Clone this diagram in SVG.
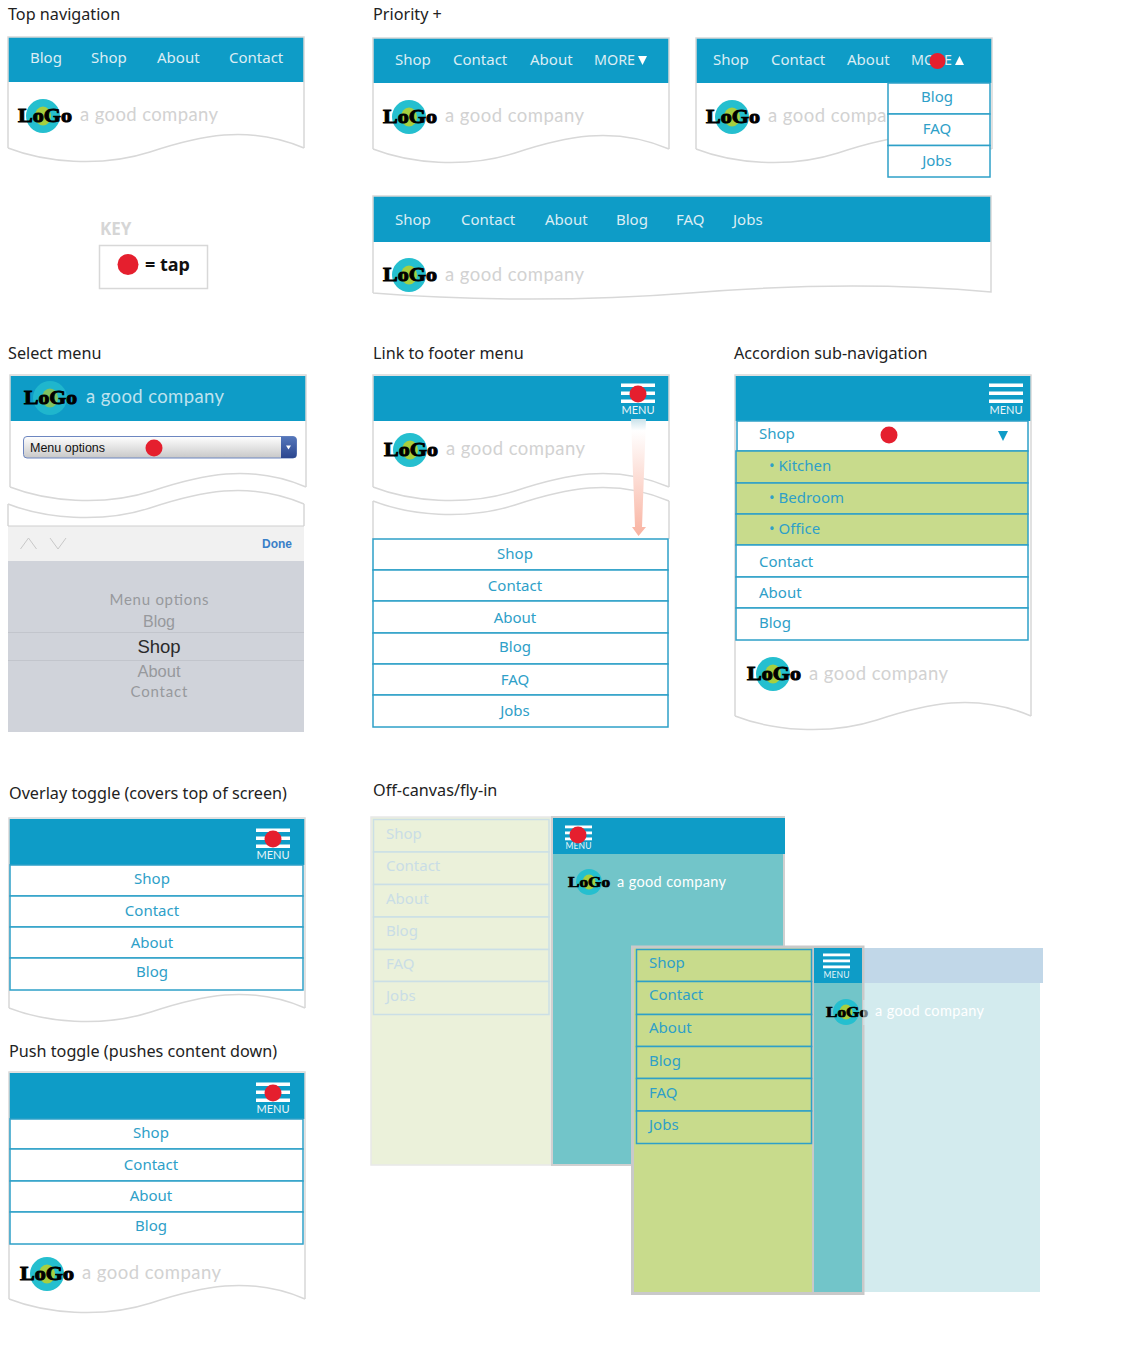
<svg xmlns="http://www.w3.org/2000/svg" width="1131" height="1350" viewBox="0 0 1131 1350">
<style>
text{font-family:"Noto Sans","Open Sans",sans-serif}
.title{font-size:16.2px;fill:#222}
.nav{font-size:15px;fill:#dcedf4}
.row{font-size:15px;fill:#2ea0c8}
.c{text-anchor:middle}
.tag{font-family:Lato,"Open Sans",sans-serif;font-size:18.500px;fill:#d2d2d2}
.tagw{font-family:Lato,"Open Sans",sans-serif;font-size:14.500px;fill:#fff}
.logo{font-family:"Liberation Serif",serif;font-weight:bold;font-size:18.500px;fill:#000;stroke:#000;stroke-width:.9}
.logos{font-family:"Liberation Serif",serif;font-weight:bold;font-size:14.500px;fill:#000;stroke:#000;stroke-width:.7}
.bar{fill:#0e9cc7}
.edge{fill:none;stroke:#d8d8d8;stroke-width:1.5}
.rowbox{fill:#fff;stroke:#2ea0c8;stroke-width:1.5}
.green{fill:#c8db8c;stroke:#2ea0c8;stroke-width:1.5}
.dot{fill:#e51f2e}
.menu{font-family:Lato,sans-serif;font-size:11px;fill:#e8f4f8;text-anchor:middle}
.menus{font-family:Lato,sans-serif;font-size:8.500px;fill:#e8f4f8;text-anchor:middle}
.fade{font-size:15px;fill:#c9dde6}
.pick{fill:#97999d;text-anchor:middle}
</style>
<defs>
<path id="wave" class="edge" d="M0,0 C36,14 92,20 142,4 C190,-12 240,-24 296,0"/>
<g id="mark"><circle r="17" fill="#25bfcf"/><ellipse rx="8" ry="9.500" fill="#a7cf3f"/></g>
<g id="marks"><circle r="13" fill="#25bfcf"/><ellipse rx="6.500" ry="7.500" fill="#a7cf3f"/></g>
<g id="icon" fill="#fff"><rect x="-17" y="-11" width="34" height="3.500"/><rect x="-17" y="-3" width="34" height="3.500"/><rect x="-17" y="5" width="34" height="3.500"/></g>
<g id="icons" fill="#fff"><rect x="-13.500" y="-8.500" width="27" height="2.800"/><rect x="-13.500" y="-2.500" width="27" height="2.800"/><rect x="-13.500" y="3.500" width="27" height="2.800"/></g>
<linearGradient id="sel" x1="0" y1="0" x2="0" y2="1"><stop offset="0" stop-color="#fff"/><stop offset="1" stop-color="#c8c8c8"/></linearGradient>
<linearGradient id="btn" x1="0" y1="0" x2="0" y2="1"><stop offset="0" stop-color="#5577bb"/><stop offset="1" stop-color="#2b468f"/></linearGradient>
<linearGradient id="arr" x1="0" y1="0" x2="0" y2="1"><stop offset="0" stop-color="#c9e2ea"/><stop offset=".1" stop-color="#fff"/><stop offset="1" stop-color="#f9b3a1"/></linearGradient>
</defs>

<g id="top-navigation">
<text class="title" x="8" y="20">Top navigation</text>
<rect class="bar" x="8" y="37" width="296" height="45"/>
<path class="edge" d="M8,148 V37 H304 V148"/>
<use href="#wave" x="8" y="148"/>
<text class="nav" x="30" y="63">Blog</text><text class="nav" x="91" y="63">Shop</text><text class="nav" x="157" y="63">About</text><text class="nav" x="229" y="63">Contact</text>
<use href="#mark" x="43" y="116"/>
<text class="logo" x="18" y="122" textLength="54" lengthAdjust="spacingAndGlyphs">LoGo</text>
<text class="tag" x="80" y="121" textLength="138">a good company</text>
</g>

<g id="priority-1">
<text class="title" x="373" y="20">Priority +</text>
<rect class="bar" x="373" y="38" width="296" height="45"/>
<path class="edge" d="M373,149 V38 H669 V149"/>
<use href="#wave" x="373" y="149"/>
<text class="nav" x="395" y="65">Shop</text><text class="nav" x="453" y="65">Contact</text><text class="nav" x="530" y="65">About</text><text class="nav" x="594" y="65" textLength="41" lengthAdjust="spacingAndGlyphs">MORE</text>
<path d="M638,56 H647 L642.500,65 Z" fill="#fff"/>
<use href="#mark" x="409" y="117"/>
<text class="logo" x="383" y="123" textLength="54" lengthAdjust="spacingAndGlyphs">LoGo</text>
<text class="tag" x="445" y="122" textLength="139">a good company</text>
</g>

<g id="priority-2">
<rect class="bar" x="696" y="38" width="296" height="45"/>
<path class="edge" d="M696,149 V38 H992 V149"/>
<use href="#wave" x="696" y="149"/>
<text class="nav" x="713" y="65">Shop</text><text class="nav" x="771" y="65">Contact</text><text class="nav" x="847" y="65">About</text><text class="nav" x="911" y="65" textLength="41" lengthAdjust="spacingAndGlyphs">MORE</text>
<path d="M955,65 H964 L959.500,56 Z" fill="#fff"/>
<circle class="dot" cx="937.500" cy="61" r="8"/>
<use href="#mark" x="732" y="117"/>
<text class="logo" x="706" y="123" textLength="54" lengthAdjust="spacingAndGlyphs">LoGo</text>
<text class="tag" x="768" y="122" textLength="139">a good company</text>
<rect class="rowbox" x="888" y="83" width="102" height="31"/><rect class="rowbox" x="888" y="114" width="102" height="31.500"/><rect class="rowbox" x="888" y="145.500" width="102" height="31.500"/>
<text class="row c" x="937" y="102">Blog</text><text class="row c" x="937" y="134">FAQ</text><text class="row c" x="937" y="166">Jobs</text>
</g>

<g id="priority-wide">
<rect class="bar" x="373" y="196" width="618" height="46"/>
<path class="edge" d="M373,293 V196 H991 V292 C900,284 800,284 690,293 C590,301 470,301 373,293"/>
<text class="nav" x="395" y="225">Shop</text><text class="nav" x="461" y="225">Contact</text><text class="nav" x="545" y="225">About</text><text class="nav" x="616" y="225">Blog</text><text class="nav" x="676" y="225">FAQ</text><text class="nav" x="733" y="225">Jobs</text>
<use href="#mark" x="409" y="275"/>
<text class="logo" x="383" y="281" textLength="54" lengthAdjust="spacingAndGlyphs">LoGo</text>
<text class="tag" x="445" y="281" textLength="139">a good company</text>
</g>

<g id="key">
<text x="100" y="235" font-size="17" font-weight="bold" fill="#d6d6d6">KEY</text>
<rect x="99.500" y="245.500" width="108" height="43" fill="#fff" stroke="#d8d8d8" stroke-width="1.500"/>
<circle class="dot" cx="128" cy="264.500" r="10.500"/>
<text x="145" y="271" font-size="18" font-weight="bold" fill="#111">= tap</text>
</g>

<g id="select-menu">
<text class="title" x="8" y="359">Select menu</text>
<rect class="bar" x="10" y="376" width="296" height="45"/>
<path class="edge" d="M10,487 V375 H306 V487"/>
<use href="#wave" x="10" y="487"/>
<use href="#mark" x="50" y="398" opacity=".75"/>
<text class="logo" x="24" y="404" textLength="53" lengthAdjust="spacingAndGlyphs">LoGo</text>
<text class="tag" x="86" y="403" textLength="138" style="fill:#bfe2ee">a good company</text>
<rect x="23.500" y="436.500" width="273" height="21.500" rx="3.500" fill="url(#sel)" stroke="#6d86c0"/>
<path d="M281,436.500 H293 a3.500,3.500 0 0 1 3.500,3.500 V454.500 a3.500,3.500 0 0 1 -3.500,3.500 H281 Z" fill="url(#btn)"/>
<path d="M286,445.500 H291 L288.500,449.500 Z" fill="#fff"/>
<text x="30" y="452" font-size="12.500" fill="#111" style="font-family:'Liberation Sans',Arial,sans-serif">Menu options</text>
<circle class="dot" cx="154" cy="448" r="8.500"/>
<use href="#wave" x="8" y="504"/>
<path class="edge" d="M8,504 V526 M304,504 V526"/>
<rect x="8" y="526" width="296" height="35" fill="#f1f1f1"/>
<path d="M8,526 H304" stroke="#cfcfcf" stroke-width="1"/>
<path d="M20.500,549 L28.500,538 L36.500,549 M50,538 L58,549 L66,538" fill="none" stroke="#c8c8c8"/>
<text x="292" y="548" font-size="12" font-weight="bold" fill="#3a7fc8" text-anchor="end" style="font-family:'Liberation Sans',Arial,sans-serif">Done</text>
<rect x="8" y="561" width="296" height="171" fill="#d0d3da"/>
<path d="M8,632.500 H304 M8,660.500 H304" stroke="#c2c5cc"/>
<text class="pick" x="159" y="605" font-size="15" style="font-family:Lato,sans-serif" textLength="99">Menu options</text>
<text class="pick" x="159" y="627" font-size="16" style="font-family:'Liberation Sans',sans-serif">Blog</text>
<text x="159" y="653" font-size="18.500" fill="#2a2a2a" text-anchor="middle" style="font-family:'Liberation Sans',sans-serif">Shop</text>
<text class="pick" x="159" y="677" font-size="16.500" style="font-family:'Liberation Sans',sans-serif">About</text>
<text class="pick" x="159" y="697" font-size="15" style="font-family:Lato,sans-serif" textLength="57">Contact</text>
</g>

<g id="link-to-footer">
<text class="title" x="373" y="359">Link to footer menu</text>
<rect class="bar" x="373" y="376" width="296" height="45"/>
<path class="edge" d="M373,487 V375 H669 V487"/>
<use href="#wave" x="373" y="487"/>
<use href="#wave" x="373" y="501"/>
<path class="edge" d="M373,501 V539 M669,501 V539"/>
<use href="#icon" x="638" y="394.500"/>
<text class="menu" x="638" y="414" textLength="33">MENU</text>
<circle class="dot" cx="638" cy="394" r="8.500"/>
<use href="#mark" x="410" y="450"/>
<text class="logo" x="384" y="456" textLength="54" lengthAdjust="spacingAndGlyphs">LoGo</text>
<text class="tag" x="446" y="455" textLength="139">a good company</text>
<rect class="rowbox" x="373" y="539" width="295" height="31"/><rect class="rowbox" x="373" y="570" width="295" height="31"/><rect class="rowbox" x="373" y="601" width="295" height="32"/><rect class="rowbox" x="373" y="633" width="295" height="31"/><rect class="rowbox" x="373" y="664" width="295" height="31"/><rect class="rowbox" x="373" y="695" width="295" height="32"/>
<text class="row c" x="515" y="559">Shop</text><text class="row c" x="515" y="591">Contact</text><text class="row c" x="515" y="623">About</text><text class="row c" x="515" y="652">Blog</text><text class="row c" x="515" y="685">FAQ</text><text class="row c" x="515" y="716">Jobs</text>
</g>

<g id="connectors">
<path d="M631,419 H646 L642,527 H646 L638.500,536 L632,527 H635 Z" fill="url(#arr)"/>
</g>

<g id="accordion">
<text class="title" x="734" y="359">Accordion sub-navigation</text>
<rect class="bar" x="735" y="376" width="296" height="45"/>
<path class="edge" d="M735,716 V375 H1031 V716"/>
<use href="#wave" x="735" y="716"/>
<use href="#icon" x="1006" y="394.500"/>
<text class="menu" x="1006" y="414" textLength="33">MENU</text>
<rect class="rowbox" x="737" y="421" width="291" height="30"/>
<rect class="green" x="736" y="451" width="292" height="32"/><rect class="green" x="736" y="483" width="292" height="31"/><rect class="green" x="736" y="514" width="292" height="31"/>
<rect class="rowbox" x="736" y="545" width="292" height="32"/><rect class="rowbox" x="736" y="577" width="292" height="31"/><rect class="rowbox" x="736" y="608" width="292" height="32"/>
<text class="row" x="759" y="439">Shop</text>
<circle class="dot" cx="889" cy="435" r="8.500"/>
<path d="M998,431 H1008 L1003,441 Z" fill="#0e9cc7"/>
<text class="row" x="769" y="471">• Kitchen</text><text class="row" x="769" y="503">• Bedroom</text><text class="row" x="769" y="534">• Office</text>
<text class="row" x="759" y="567">Contact</text><text class="row" x="759" y="598">About</text><text class="row" x="759" y="628">Blog</text>
<use href="#mark" x="773" y="674"/>
<text class="logo" x="747" y="680" textLength="54" lengthAdjust="spacingAndGlyphs">LoGo</text>
<text class="tag" x="809" y="680" textLength="139">a good company</text>
</g>

<g id="overlay-toggle">
<text class="title" x="9" y="799">Overlay toggle (covers top of screen)</text>
<rect class="bar" x="9" y="819" width="296" height="46"/>
<path class="edge" d="M9,1008 V818 H305 V1008"/>
<use href="#wave" x="9" y="1008"/>
<use href="#icon" x="273" y="839.500"/>
<text class="menu" x="273" y="859" textLength="33">MENU</text>
<circle class="dot" cx="273" cy="839" r="8.500"/>
<rect class="rowbox" x="10" y="865" width="293" height="31"/><rect class="rowbox" x="10" y="896" width="293" height="31"/><rect class="rowbox" x="10" y="927" width="293" height="31"/><rect class="rowbox" x="10" y="958" width="293" height="32"/>
<text class="row c" x="152" y="884">Shop</text><text class="row c" x="152" y="916">Contact</text><text class="row c" x="152" y="948">About</text><text class="row c" x="152" y="977">Blog</text>
</g>

<g id="push-toggle">
<text class="title" x="9" y="1057">Push toggle (pushes content down)</text>
<rect class="bar" x="9" y="1073" width="296" height="46"/>
<path class="edge" d="M9,1299 V1072 H305 V1299"/>
<use href="#wave" x="9" y="1299"/>
<use href="#icon" x="273" y="1093.500"/>
<text class="menu" x="273" y="1113" textLength="33">MENU</text>
<circle class="dot" cx="273" cy="1093" r="8.500"/>
<rect class="rowbox" x="10" y="1119" width="293" height="30"/><rect class="rowbox" x="10" y="1149" width="293" height="32"/><rect class="rowbox" x="10" y="1181" width="293" height="31"/><rect class="rowbox" x="10" y="1212" width="293" height="32"/>
<text class="row c" x="151" y="1138">Shop</text><text class="row c" x="151" y="1170">Contact</text><text class="row c" x="151" y="1201">About</text><text class="row c" x="151" y="1231">Blog</text>
<use href="#mark" x="47" y="1274"/>
<text class="logo" x="20" y="1280" textLength="54" lengthAdjust="spacingAndGlyphs">LoGo</text>
<text class="tag" x="82" y="1279" textLength="139">a good company</text>
</g>

<g id="off-canvas-1">
<text class="title" x="373" y="796">Off-canvas/fly-in</text>
<rect x="371" y="817" width="180" height="348" fill="#ebf1da" stroke="#e8e8e8" stroke-width="1.500"/>
<g fill="#ebf1da" stroke="#cbdfe6" stroke-width="1.500"><rect x="373.500" y="819.500" width="175.500" height="32.500"/><rect x="373.500" y="852" width="175.500" height="32.500"/><rect x="373.500" y="884.500" width="175.500" height="32.500"/><rect x="373.500" y="917" width="175.500" height="32.500"/><rect x="373.500" y="949.500" width="175.500" height="32"/><rect x="373.500" y="981.500" width="175.500" height="33"/></g>
<text class="fade" x="386" y="839">Shop</text><text class="fade" x="386" y="871">Contact</text><text class="fade" x="386" y="904">About</text><text class="fade" x="386" y="936">Blog</text><text class="fade" x="386" y="969">FAQ</text><text class="fade" x="386" y="1001">Jobs</text>
</g>

<g id="off-canvas-2">
<rect x="552" y="817" width="232" height="348" fill="#72c5c9" stroke="#d0d0d0" stroke-width="2"/>
<rect class="bar" x="553" y="818" width="232" height="36"/>
<use href="#icons" x="578.500" y="834"/>
<text class="menus" x="578.500" y="849" textLength="26">MENU</text>
<circle class="dot" cx="578" cy="835" r="8.500"/>
<use href="#marks" x="589" y="882"/>
<text class="logos" x="568" y="887" textLength="42" lengthAdjust="spacingAndGlyphs">LoGo</text>
<text class="tagw" x="617" y="887" textLength="109">a good company</text>
</g>

<g id="off-canvas-3-content">
<rect x="864" y="948" width="179" height="35" fill="#c1d7e8"/>
<rect x="864" y="983" width="176" height="309" fill="#d3ebee"/>
</g>

<g id="off-canvas-3">
<rect x="632.500" y="947" width="230.500" height="346.500" fill="#c8db8c" stroke="#c9c9c9" stroke-width="3"/>
<rect x="814" y="983" width="48" height="309" fill="#72c5c9"/>
<rect class="bar" x="814" y="948" width="48" height="35"/>
<path d="M813,948 V1292" stroke="#c9c9c9" stroke-width="2"/>
<rect class="green" x="636.500" y="949.500" width="175" height="32"/><rect class="green" x="636.500" y="981.500" width="175" height="33"/><rect class="green" x="636.500" y="1014.500" width="175" height="32"/><rect class="green" x="636.500" y="1046.500" width="175" height="32"/><rect class="green" x="636.500" y="1078.500" width="175" height="32.500"/><rect class="green" x="636.500" y="1111" width="175" height="32.500"/>
<text class="row" x="649" y="968">Shop</text><text class="row" x="649" y="1000">Contact</text><text class="row" x="649" y="1033">About</text><text class="row" x="649" y="1066">Blog</text><text class="row" x="649" y="1098">FAQ</text><text class="row" x="649" y="1130">Jobs</text>
<use href="#icons" x="836.500" y="962"/>
<text class="menus" x="836.500" y="978" textLength="26">MENU</text>
<use href="#marks" x="846" y="1012"/>
<text class="logos" x="826" y="1017" textLength="42" lengthAdjust="spacingAndGlyphs">LoGo</text>
<rect x="863" y="1000" width="6" height="25" fill="#d3ebee" opacity=".55"/>
<text class="tagw" x="875" y="1016" textLength="109">a good company</text>
</g>
</svg>
